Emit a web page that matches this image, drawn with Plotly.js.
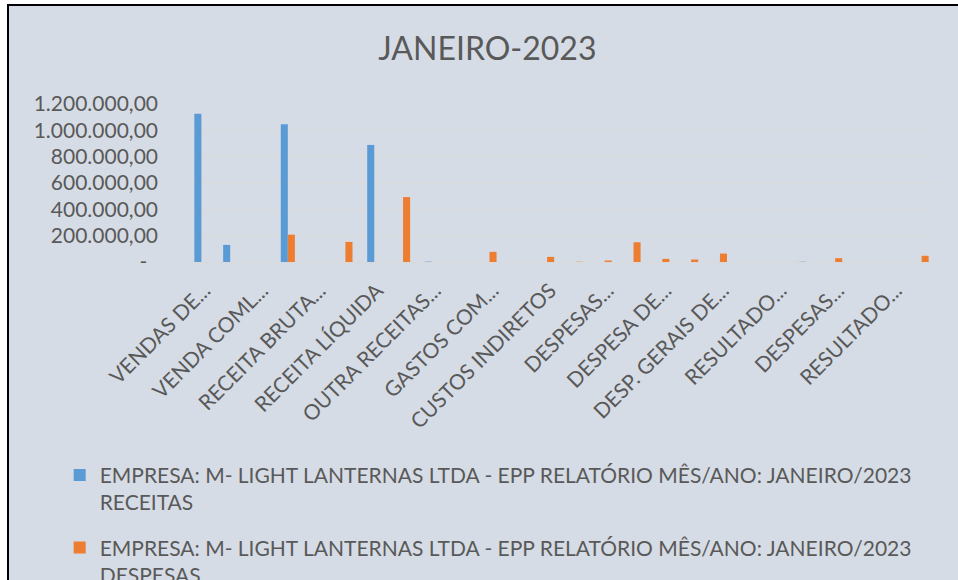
<!DOCTYPE html>
<html>
<head>
<meta charset="utf-8">
<script src="https://cdn.plot.ly/plotly-3.0.1.min.js"></script>
<style>
  html, body { margin: 0; padding: 0; background: #ffffff; overflow: hidden; }
  #frame { position: absolute; left: 7px; top: 4px; border-left: 2px solid #000; border-top: 2px solid #000; width: 949px; height: 574px; background: #D6DCE5; }
  #chart { width: 949px; height: 574px; }
</style>
</head>
<body>
<div id="frame"><div id="chart"></div></div>
<script>
// ---- data ----
var categories = [
  "VENDAS DE MERCADORIAS", "VENDAS DE SERVIÇOS", "VENDA COML. EXTERIOR", "TOTAL DE VENDAS",
  "RECEITA BRUTA OPERACIONAL", "DEDUÇÕES DA RECEITA", "RECEITA LÍQUIDA", "CUSTO DAS MERCADORIAS",
  "OUTRA RECEITAS OPERACIONAIS", "LUCRO BRUTO", "GASTOS COM PESSOAL", "ENCARGOS SOCIAIS",
  "CUSTOS INDIRETOS", "MANUTENÇÃO", "DESPESAS ADMINISTRATIVAS", "DESPESAS COMERCIAIS",
  "DESPESA DE VEÍCULOS", "DESPESAS COM SERVIÇOS", "DESP. GERAIS DE ESCRITÓRIO", "TOTAL DESPESAS OPERACIONAIS",
  "RESULTADO OPERACIONAL", "RECEITAS FINANCEIRAS", "DESPESAS FINANCEIRAS", "OUTRAS DESPESAS",
  "RESULTADO ANTES DO IR", "IMPOSTOS (IRPJ/CSLL)"
];
var receitas = [1126000, 130000, null, 1046000, null, null, 889000, null, 3000, null, null, null, null,
                null, null, null, null, null, null, null, null, 2000, null, null, null, null];
var despesas = [null, null, null, 207500, null, 152500, null, 493000, null, null, 77000, null, 39000,
                2000, 11000, 150000, 24000, 19000, 64000, null, null, null, 29000, null, null, 47000];
var tickCategories = [categories[0], categories[2], categories[4], categories[6], categories[8], categories[10],
                      categories[12], categories[14], categories[16], categories[18], categories[20], categories[22], categories[24]];
var tickLabels = ["VENDAS DE...", "VENDA COML...", "RECEITA BRUTA...", "RECEITA LÍQUIDA", "OUTRA RECEITAS...",
                  "GASTOS COM...", "CUSTOS INDIRETOS", "DESPESAS...", "DESPESA DE...", "DESP. GERAIS DE...",
                  "RESULTADO...", "DESPESAS...", "RESULTADO..."];
var yTickValues = [0, 200000, 400000, 600000, 800000, 1000000, 1200000];
var yTickLabels = ["-\u00a0\u00a0", "200.000,00", "400.000,00", "600.000,00", "800.000,00", "1.000.000,00", "1.200.000,00"];
var seriesNames = [
  "EMPRESA: M- LIGHT LANTERNAS LTDA - EPP RELATÓRIO MÊS/ANO: JANEIRO/2023<br>RECEITAS",
  "EMPRESA: M- LIGHT LANTERNAS LTDA - EPP RELATÓRIO MÊS/ANO: JANEIRO/2023<br>DESPESAS"
];
var chartTitle = "JANEIRO-2023";

// ---- chart ----
var FONT = "Lato, 'Open Sans', sans-serif";
var GREY = "#595959";
var traces = [
  { type: "bar", x: categories, y: receitas, name: seriesNames[0], legendgroup: "a",
    marker: { color: "#5B9BD5" }, hoverinfo: "x+y" },
  { type: "bar", x: categories, y: despesas, name: seriesNames[1], legendgroup: "b",
    marker: { color: "#ED7D31" }, hoverinfo: "x+y" }
];
var layout = {
  width: 949, height: 574,
  paper_bgcolor: "#D6DCE5", plot_bgcolor: "#D6DCE5",
  font: { family: FONT, color: GREY, size: 20 },
  margin: { l: 178, r: 22, t: 98, b: 317.5, pad: 0, autoexpand: false },
  title: { text: chartTitle, font: { family: FONT, size: 32, color: GREY },
           x: 0.504, xref: "container", xanchor: "center", y: 0.926, yref: "container", yanchor: "middle" },
  barmode: "group", bargap: 0.51, bargroupgap: 0,
  showlegend: true,
  legend: { orientation: "v", x: -0.17, xanchor: "left", y: -1.22, yanchor: "top", yref: "paper",
            valign: "top", tracegroupgap: 15, traceorder: "grouped",
            font: { family: FONT, size: 21, color: GREY }, bgcolor: "rgba(0,0,0,0)" },
  xaxis: { type: "category", categoryorder: "array", categoryarray: categories,
           tickmode: "array", tickvals: tickCategories, ticktext: tickLabels,
           tickangle: -45, ticks: "", showgrid: false, showline: true, linecolor: "#D9D9D9", linewidth: 1,
           automargin: false, ticklabelstandoff: 7, ticklabelshift: 3, tickfont: { family: FONT, size: 21, color: GREY } },
  yaxis: { range: [0, 1200000], tickmode: "array", tickvals: yTickValues, ticktext: yTickLabels,
           showgrid: true, gridcolor: "#D9D9D9", gridwidth: 1, zeroline: false, showline: false,
           ticks: "", automargin: false, ticklabelstandoff: 28, tickfont: { family: FONT, size: 21, color: GREY } }
};
Plotly.newPlot("chart", traces, layout, { displayModeBar: false, staticPlot: true });
</script>
</body>
</html>
